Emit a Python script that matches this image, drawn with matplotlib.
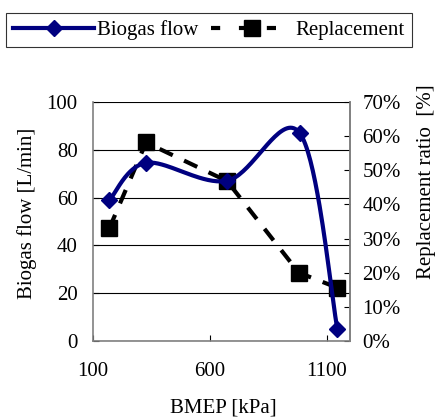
import numpy as np
import matplotlib
matplotlib.use("Agg")
import matplotlib.pyplot as plt
from matplotlib.lines import Line2D
from matplotlib.ticker import PercentFormatter

plt.rcParams['font.family'] = ['Liberation Serif', 'DejaVu Serif']
plt.rcParams['font.size'] = 15

# Data
bmep = [170, 327, 674, 985, 1146]            # kPa
biogas_flow = [58.8, 74.5, 67.0, 86.9, 4.9]  # L/min
replacement_bmep = [170, 327, 674, 981, 1146]
replacement = [0.330, 0.581, 0.468, 0.200, 0.156]  # fraction

x_ticks = [100, 600, 1100]
y_ticks = [0, 20, 40, 60, 80, 100]
y2_ticks = [0, 0.1, 0.2, 0.3, 0.4, 0.5, 0.6, 0.7]

XMIN, XMAX = 100, 1200
YMIN, YMAX = 0, 100

fig = plt.figure(figsize=(4.37, 4.19), dpi=100)
ax = fig.add_axes([0.2128, 0.186, 0.801 - 0.2128, 0.757 - 0.186])


def smooth_curve(xs, ys, w, h, n=40):
    """Catmull-Rom style smoothing through the points, computed in screen-like space."""
    px = [(x - XMIN) / (XMAX - XMIN) * w for x in xs]
    py = [(y - YMIN) / (YMAX - YMIN) * h for y in ys]
    P = np.array(list(zip(px, py)))
    pts = np.vstack([P[0], P, P[-1]])
    out = []
    t = np.linspace(0, 1, n)[:, None]
    for i in range(1, len(pts) - 2):
        p0, p1, p2, p3 = pts[i - 1], pts[i], pts[i + 1], pts[i + 2]
        c1 = p1 + (p2 - p0) / 6
        c2 = p2 - (p3 - p1) / 6
        seg = ((1 - t) ** 3) * p1 + 3 * ((1 - t) ** 2) * t * c1 + 3 * (1 - t) * t ** 2 * c2 + t ** 3 * p2
        out.append(seg if i == 1 else seg[1:])
    out = np.vstack(out)
    x = out[:, 0] / w * (XMAX - XMIN) + XMIN
    y = out[:, 1] / h * (YMAX - YMIN) + YMIN
    return x, y


navy = '#000080'
sx, sy = smooth_curve(bmep, biogas_flow, 257, 239)
ax.plot(sx, sy, color=navy, lw=3.0, zorder=4, solid_capstyle='round')
ax.plot(bmep, biogas_flow, ls='none', marker='D', ms=8, color=navy, zorder=5)

ax.set_xlim(XMIN, XMAX)
ax.set_ylim(YMIN, YMAX)
ax.set_xticks(x_ticks)
ax.set_yticks(y_ticks)
ax.grid(axis='y', color='black', lw=0.8)
ax.set_axisbelow(True)
ax.tick_params(axis='both', direction='in', length=4, color='black', width=0.8)
ax.tick_params(axis='x', pad=15)
ax.tick_params(axis='y', pad=11)
for side in ['left', 'bottom', 'right']:
    ax.spines[side].set_color('#808080')
    ax.spines[side].set_linewidth(1.2)
ax.spines['top'].set_visible(False)

ax.set_xlabel('BMEP [kPa]')
ax.xaxis.set_label_coords(0.506, -0.24)
ax.set_ylabel('Biogas flow [L/min]')
ax.yaxis.set_label_coords(-0.218, 0.535)

ax2 = ax.twinx()
ax2.set_ylim(0, 0.7)
ax2.set_yticks(y2_ticks)
ax2.yaxis.set_major_formatter(PercentFormatter(1.0, decimals=0))
ax2.tick_params(axis='y', direction='in', length=4, color='black', width=0.8, pad=9)
for side in ['left', 'bottom', 'top']:
    ax2.spines[side].set_visible(False)
ax2.spines['right'].set_color('#808080')
ax2.spines['right'].set_linewidth(1.2)
ax2.plot(replacement_bmep, replacement, color='black', lw=3.0, dashes=(3.5, 3),
         marker='s', ms=11, zorder=3)
ax2.set_ylabel('Replacement ratio  [%]')
ax2.yaxis.set_label_coords(1.262, 0.665)

# keep the biogas curve on top of the replacement series
ax.set_zorder(ax2.get_zorder() + 1)
ax.patch.set_visible(False)

handles = [
    Line2D([], [], color=navy, lw=3.0, marker='D', ms=8),
    Line2D([], [], color='black', lw=3.0, dashes=(2.2, 4.5), marker='s', ms=11),
]
leg = fig.legend(handles, ['Biogas flow', 'Replacement'], loc='center',
                 bbox_to_anchor=(0.478, 0.928), ncol=2, frameon=True, fancybox=False,
                 edgecolor='black', handlelength=3.9, handletextpad=0.15,
                 columnspacing=0.6, borderpad=0.35, borderaxespad=0)
leg.get_frame().set_linewidth(0.8)

fig.savefig('out.png', dpi=100)
